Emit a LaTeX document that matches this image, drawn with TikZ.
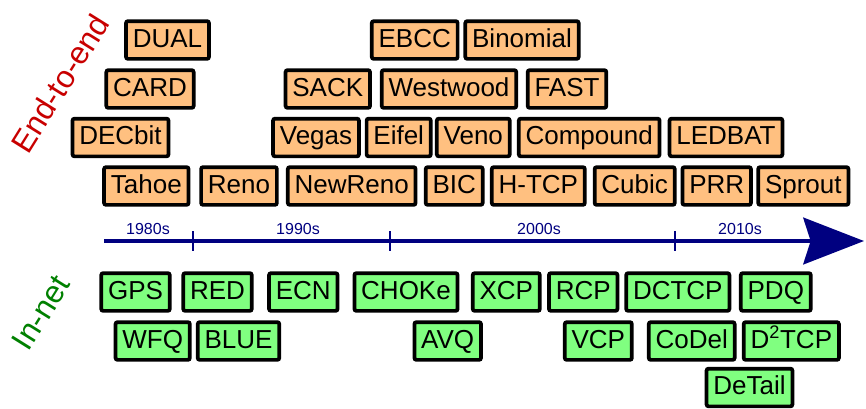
\documentclass[tikz,border=0pt]{standalone}
\usepackage{fontspec}
\setmainfont{Liberation Sans}
\usetikzlibrary{arrows.meta}
\definecolor{endfill}{HTML}{FFC080}
\definecolor{netfill}{HTML}{80FF80}
\definecolor{endtext}{HTML}{C80000}
\definecolor{nettext}{HTML}{008000}
\definecolor{timeblue}{HTML}{000080}
\tikzset{
  algo/.style={
    rectangle,
    rounded corners=1.5pt,
    draw=black,
    line width=2.8pt,
    inner xsep=5.1pt,
    inner ysep=0pt,
    minimum height=28.3pt,
    text height=14pt,
    text depth=3pt,
    font=\fontsize{19.5}{22}\selectfont
  },
  endbox/.style={
    algo,
    fill=endfill
  },
  netbox/.style={
    algo,
    fill=netfill
  },
  group-title/.style={
    rotate=58,
    inner sep=0pt,
    font=\fontsize{23.6}{28}\selectfont
  },
  decade/.style={
    inner sep=0pt,
    text=timeblue,
    font=\fontsize{12}{14}\selectfont
  },
  timeline/.style={
    -{Stealth[length=45.5pt, width=35pt, inset=5.5pt]},
    line width=3.2pt,
    draw=timeblue
  },
  tick/.style={
    line width=1.5pt,
    draw=timeblue
  }
}
\begin{document}
\begin{tikzpicture}[x=0.75pt, y=-0.75pt]
\useasboundingbox (0,0) rectangle (866,408);

% Group titles.
\node[group-title, text=endtext] (endtitle) at (60, 83.5) {End-to-end};
\node[group-title, text=nettext] (nettitle) at (41, 312.5) {In-net};

% End-to-end, top row first.
\node[endbox] (dual) at (167.5, 40) {DUAL};
\node[endbox] (ebcc) at (414.7, 40) {EBCC};
\node[endbox] (binomial) at (522, 40) {Binomial};

\node[endbox] (card) at (150, 89) {CARD};
\node[endbox] (sack) at (327.8, 89) {SACK};
\node[endbox] (westwood) at (449, 89) {Westwood};
\node[endbox] (fast) at (567, 89) {FAST};

\node[endbox] (decbit) at (120.5, 137.5) {DECbit};
\node[endbox] (vegas) at (316, 137.5) {Vegas};
\node[endbox] (eifel) at (398.7, 137.5) {Eifel};
\node[endbox] (veno) at (473.3, 137.5) {Veno};
\node[endbox] (compound) at (589.2, 137.5) {Compound};
\node[endbox] (ledbat) at (726, 137.5) {LEDBAT};

\node[endbox] (tahoe) at (146.3, 186) {Tahoe};
\node[endbox] (reno) at (239, 186) {Reno};
\node[endbox] (newreno) at (351.7, 186) {NewReno};
\node[endbox] (bic) at (454.2, 186) {BIC};
\node[endbox] (htcp) at (538.3, 186) {H-TCP};
\node[endbox] (cubic) at (634.7, 186) {Cubic};
\node[endbox] (prr) at (716.7, 186) {PRR};
\node[endbox] (sprout) at (803.3, 186) {Sprout};

% Time axis.
\coordinate (axisstart) at (104, 241);
\coordinate (axisend) at (864, 241);
\draw[timeline] (axisstart) -- (axisend);
\foreach \tx in {193, 390, 675}
  \draw[tick] (\tx, 231) -- (\tx, 251);

\node[decade] (d80) at (148, 228.5) {1980s};
\node[decade] (d90) at (298, 228.5) {1990s};
\node[decade] (d00) at (539, 228.5) {2000s};
\node[decade] (d10) at (740, 228.5) {2010s};

% In-net.
\node[netbox] (gps) at (135.5, 292) {GPS};
\node[netbox] (red) at (217.5, 292) {RED};
\node[netbox] (ecn) at (303.3, 292) {ECN};
\node[netbox] (choke) at (406, 292) {CHOKe};
\node[netbox] (xcp) at (506.3, 292) {XCP};
\node[netbox] (rcp) at (583.2, 292) {RCP};
\node[netbox] (dctcp) at (677.8, 292) {DCTCP};
\node[netbox] (pdq) at (775.8, 292) {PDQ};

\node[netbox] (wfq) at (152.7, 341) {WFQ};
\node[netbox] (blue) at (238.5, 341) {BLUE};
\node[netbox] (avq) at (447.7, 341) {AVQ};
\node[netbox] (vcp) at (598.3, 341) {VCP};
\node[netbox] (codel) at (691.7, 341) {CoDel};
\node[netbox] (d2tcp) at (791.3, 341) {D\textsuperscript{2}TCP};

\node[netbox] (detail) at (749.5, 387.5) {DeTail};

\end{tikzpicture}
\end{document}
